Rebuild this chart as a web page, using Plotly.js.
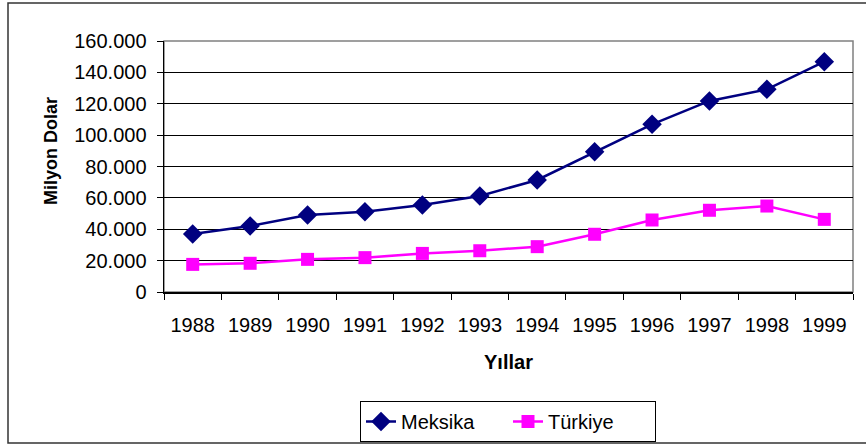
<!DOCTYPE html>
<html>
<head>
<meta charset="utf-8">
<script src="https://cdn.plot.ly/plotly-3.0.1.min.js"></script>
<style>
html,body{margin:0;padding:0;background:#fff;}
#chart{width:866px;height:447px;}
</style>
</head>
<body>
<div id="chart"></div>
<script>
const years = ["1988","1989","1990","1991","1992","1993","1994","1995","1996","1997","1998","1999"];
const meksika = [37000, 42100, 49100, 51200, 55500, 61200, 71400, 89400, 106900, 121800, 129200, 146800];
const turkiye = [17600, 18300, 20800, 21900, 24600, 26300, 28900, 36800, 45900, 52100, 54800, 46300];
const yTicks = [0, 20000, 40000, 60000, 80000, 100000, 120000, 140000, 160000];

const FONT = "Liberation Sans, Arial, sans-serif";
const L = 164, R = 853, T = 41, B = 292, W = 866, H = 447;
const pw = R - L, ph = B - T;
const px = v => (v - L) / pw;
const py = v => (B - v) / ph;

const traces = [
  {x: years, y: meksika, name: "Meksika", type: "scatter", mode: "lines+markers",
   line: {color: "#000080", width: 2.5},
   marker: {symbol: "diamond", size: 15, color: "#000080"}},
  {x: years, y: turkiye, name: "Türkiye", type: "scatter", mode: "lines+markers",
   line: {color: "#FF00FF", width: 2.5},
   marker: {symbol: "square", size: 13, color: "#FF00FF"}}
];

const layout = {
  width: W, height: H,
  margin: {l: L, r: W - R, t: T, b: H - B, pad: 0, autoexpand: false},
  paper_bgcolor: "#fff", plot_bgcolor: "#fff",
  separators: ",.",
  font: {family: FONT, color: "#000", size: 20},
  showlegend: true,
  legend: {orientation: "h", x: px(508), xanchor: "center", y: py(401), yanchor: "top",
    bordercolor: "#000", borderwidth: 1, bgcolor: "#fff",
    font: {family: FONT, size: 20}, entrywidth: 102, entrywidthmode: "pixels", traceorder: "normal"},
  xaxis: {type: "category", range: [-0.5, 11.5], tickson: "boundaries",
    ticks: "outside", ticklen: 6, tickcolor: "#000", tickwidth: 1,
    showline: true, linecolor: "#000", linewidth: 1.5, showgrid: false, zeroline: false,
    tickfont: {family: FONT, size: 20}, ticklabelstandoff: 14,
    title: {text: "<b>Yıllar</b>", font: {family: FONT, size: 20}, standoff: 20}},
  yaxis: {range: [0, 160000], tickvals: yTicks, tickformat: ",d",
    ticks: "outside", ticklen: 6, tickcolor: "#000", tickwidth: 1,
    showline: true, linecolor: "#000", linewidth: 1.5,
    showgrid: true, gridcolor: "#000", gridwidth: 1, zeroline: false,
    tickfont: {family: FONT, size: 20}, ticklabelstandoff: 6},
  annotations: [
    {text: "<b>Milyon Dolar</b>", xref: "paper", yref: "paper", x: px(51), y: py(151),
     xanchor: "center", yanchor: "middle", textangle: -90, showarrow: false,
     font: {family: FONT, size: 18, color: "#000"}}
  ],
  shapes: [
    {type: "rect", xref: "paper", yref: "paper", x0: 0, x1: 1, y0: 0, y1: 1,
     line: {color: "#808080", width: 1.5}, layer: "below"},
    {type: "rect", xref: "paper", yref: "paper", x0: px(8), x1: px(872), y0: py(443), y1: py(3),
     line: {color: "#333", width: 1.5}}
  ]
};

Plotly.newPlot("chart", traces, layout, {displayModeBar: false, staticPlot: true});
</script>
</body>
</html>
